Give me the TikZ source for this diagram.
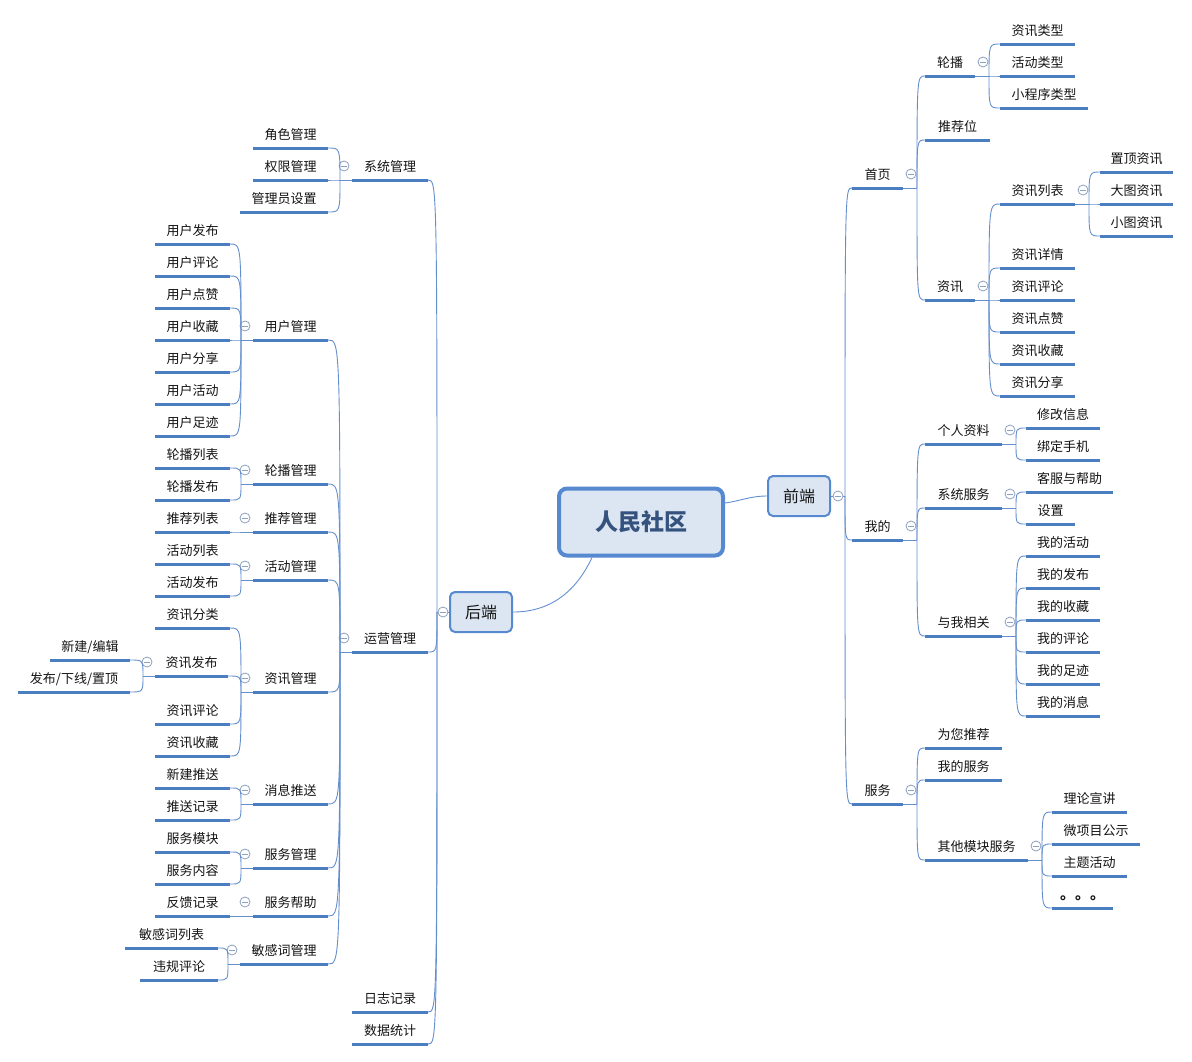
\documentclass[tikz,border=0pt]{standalone}
\usepackage{fontspec}
\setmainfont{Noto Sans CJK SC}
\usetikzlibrary{calc}
\definecolor{ul}{RGB}{74,126,193}
\definecolor{cn}{RGB}{100,143,206}
\definecolor{mk}{RGB}{140,160,192}
\definecolor{bxfill}{RGB}{220,230,242}
\definecolor{bxline}{RGB}{86,137,208}
\definecolor{roottext}{RGB}{52,82,125}
\definecolor{tt}{RGB}{20,20,20}
\tikzset{
 tx/.style={inner sep=0pt, text height=10pt, text depth=0pt, font=\fontsize{13}{15}\selectfont, text=tt},
 uline/.style={draw=ul, line width=3pt},
 conn/.style={draw=cn, line width=0.9pt},
 collapse/.style={circle, draw=mk, fill=white, line width=0.8pt, minimum size=10pt, inner sep=0pt,
   path picture={\draw[mk, line width=0.8pt] ([xshift=-2.7pt]path picture bounding box.center) -- ([xshift=2.7pt]path picture bounding box.center);}},
 midbox/.style={draw=bxline, fill=bxfill, line width=2pt, rounded corners=5pt, minimum width=62pt, minimum height=40pt, inner sep=0pt, font=\fontsize{16}{18}\selectfont, text=tt},
 rootbox/.style={draw=bxline, fill=bxfill, line width=4pt, rounded corners=8pt, minimum width=164pt, minimum height=67pt, inner sep=0pt, font=\fontsize{23}{26}\selectfont\bfseries, text=roottext},
}
\newcommand\tp[5]{%
 \coordinate (#1-l) at (#2,#4);
 \coordinate (#1-r) at (#3,#4);
 \node[tx] (#1) at ({(#2+#3)/2},{#4-14}) {#5};
 \draw[uline] (#1-l) -- (#1-r);}
\newcommand\pr[1]{%
 \coordinate (#1-j) at ($(#1-r)+(14,0)$);
 \draw[conn] (#1-r) -- (#1-j);
 \node[collapse] (#1-m) at ($(#1-r)+(8,-14)$) {};}
\newcommand\pl[1]{%
 \coordinate (#1-j) at ($(#1-l)+(-12,0)$);
 \draw[conn] (#1-l) -- (#1-j);
 \node[collapse] (#1-m) at ($(#1-l)+(-8,-14)$) {};}
\newcommand\kr[2]{\draw[conn] (#1-j) .. controls (#1-j |- #2-l) .. (#2-l);}
\newcommand\kl[2]{\draw[conn] (#1-j) .. controls (#1-j |- #2-r) .. (#2-r);}
\begin{document}
\begin{tikzpicture}[x=1pt,y=-1pt]
\fill[white] (0,0) rectangle (1192,1061);
\useasboundingbox (0,0) rectangle (1192,1061);

% root and main branches
\node[rootbox] (root) at (641,522) {人民社区};
\node[midbox] (fe) at (799,496) {前端};
\node[midbox] (be) at (481,612) {后端};
\draw[conn] ([yshift=19pt]root.east) to[out=8,in=180] (fe.west);
\draw[conn] ([xshift=-49pt]root.south) to[out=-115,in=0] (be.east);

% ---------------- left: 后端
\coordinate (be-j) at (437,612);
\draw[conn] (be.west) -- (be-j);
\node[collapse] (be-m) at (443,612) {};
\tp{sys}{352}{428}{180}{系统管理}
\tp{ops}{352}{428}{652}{运营管理}
\tp{log}{352}{428}{1012}{日志记录}
\tp{stat}{352}{428}{1044}{数据统计}
\kl{be}{sys}\kl{be}{ops}\kl{be}{log}\kl{be}{stat}

\pl{sys}
\tp{role}{253}{328}{148}{角色管理}
\tp{perm}{253}{328}{180}{权限管理}
\tp{admin}{240}{328}{212}{管理员设置}
\kl{sys}{role}\kl{sys}{perm}\kl{sys}{admin}

\pl{ops}
\tp{user}{253}{328}{340}{用户管理}
\tp{car}{253}{328}{484}{轮播管理}
\tp{rec}{253}{328}{532}{推荐管理}
\tp{act}{253}{328}{580}{活动管理}
\tp{news}{253}{328}{692}{资讯管理}
\tp{msg}{253}{328}{804}{消息推送}
\tp{svc}{253}{328}{868}{服务管理}
\tp{help}{253}{328}{916}{服务帮助}
\tp{sens}{240}{328}{964}{敏感词管理}
\kl{ops}{user}\kl{ops}{car}\kl{ops}{rec}\kl{ops}{act}\kl{ops}{news}
\kl{ops}{msg}\kl{ops}{svc}\kl{ops}{help}\kl{ops}{sens}

\pl{user}
\tp{yhfb}{155}{230}{244}{用户发布}
\tp{yhpl}{155}{230}{276}{用户评论}
\tp{yhdz}{155}{230}{308}{用户点赞}
\tp{yhsc}{155}{230}{340}{用户收藏}
\tp{yhfx}{155}{230}{372}{用户分享}
\tp{yhhd}{155}{230}{404}{用户活动}
\tp{yhzj}{155}{230}{436}{用户足迹}
\kl{user}{yhfb}\kl{user}{yhpl}\kl{user}{yhdz}\kl{user}{yhsc}
\kl{user}{yhfx}\kl{user}{yhhd}\kl{user}{yhzj}

\pl{car}
\tp{lblb}{155}{230}{468}{轮播列表}
\tp{lbfb}{155}{230}{500}{轮播发布}
\kl{car}{lblb}\kl{car}{lbfb}

\pl{rec}
\tp{tjlb}{155}{230}{532}{推荐列表}
\kl{rec}{tjlb}

\pl{act}
\tp{hdlb}{155}{230}{564}{活动列表}
\tp{hdfb}{155}{230}{596}{活动发布}
\kl{act}{hdlb}\kl{act}{hdfb}

\pl{news}
\tp{zxfl}{155}{230}{628}{资讯分类}
\tp{zxfb}{155}{228}{676}{资讯发布}
\tp{zxpl}{155}{230}{724}{资讯评论}
\tp{zxsc}{155}{230}{756}{资讯收藏}
\kl{news}{zxfl}\kl{news}{zxfb}\kl{news}{zxpl}\kl{news}{zxsc}

\pl{zxfb}
\tp{xjbj}{50}{130}{660}{新建/编辑}
\tp{fbxx}{18}{130}{692}{发布/下线/置顶}
\kl{zxfb}{xjbj}\kl{zxfb}{fbxx}

\pl{msg}
\tp{xjts}{155}{230}{788}{新建推送}
\tp{tsjl}{155}{230}{820}{推送记录}
\kl{msg}{xjts}\kl{msg}{tsjl}

\pl{svc}
\tp{fwmk}{155}{230}{852}{服务模块}
\tp{fwnr}{155}{230}{884}{服务内容}
\kl{svc}{fwmk}\kl{svc}{fwnr}

\pl{help}
\tp{fkjl}{155}{230}{916}{反馈记录}
\kl{help}{fkjl}

\pl{sens}
\tp{mgc}{125}{218}{948}{敏感词列表}
\tp{wgpl}{140}{218}{980}{违规评论}
\kl{sens}{mgc}\kl{sens}{wgpl}

% ---------------- right: 前端
\coordinate (fe-j) at (845,496);
\draw[conn] (fe.east) -- (fe-j);
\node[collapse] (fe-m) at (838,496) {};
\tp{home}{852}{903}{188}{首页}
\tp{mine}{852}{903}{540}{我的}
\tp{serv}{852}{903}{804}{服务}
\kr{fe}{home}\kr{fe}{mine}\kr{fe}{serv}

\pr{home}
\tp{lb}{925}{975}{76}{轮播}
\tp{tjw}{925}{990}{140}{推荐位}
\tp{zx}{925}{975}{300}{资讯}
\kr{home}{lb}\kr{home}{tjw}\kr{home}{zx}

\pr{lb}
\tp{zxlx}{1000}{1075}{44}{资讯类型}
\tp{hdlx}{1000}{1075}{76}{活动类型}
\tp{xcx}{1000}{1088}{108}{小程序类型}
\kr{lb}{zxlx}\kr{lb}{hdlx}\kr{lb}{xcx}

\pr{zx}
\tp{zxlb}{1000}{1075}{204}{资讯列表}
\tp{zxxq}{1000}{1075}{268}{资讯详情}
\tp{rzxpl}{1000}{1075}{300}{资讯评论}
\tp{zxdz}{1000}{1075}{332}{资讯点赞}
\tp{rzxsc}{1000}{1075}{364}{资讯收藏}
\tp{zxfx}{1000}{1075}{396}{资讯分享}
\kr{zx}{zxlb}\kr{zx}{zxxq}\kr{zx}{rzxpl}\kr{zx}{zxdz}\kr{zx}{rzxsc}\kr{zx}{zxfx}

\pr{zxlb}
\tp{zdzx}{1100}{1173}{172}{置顶资讯}
\tp{dtzx}{1100}{1173}{204}{大图资讯}
\tp{xtzx}{1100}{1173}{236}{小图资讯}
\kr{zxlb}{zdzx}\kr{zxlb}{dtzx}\kr{zxlb}{xtzx}

\pr{mine}
\tp{grzl}{925}{1002}{444}{个人资料}
\tp{xtfw}{925}{1002}{508}{系统服务}
\tp{ywxg}{925}{1002}{636}{与我相关}
\kr{mine}{grzl}\kr{mine}{xtfw}\kr{mine}{ywxg}

\pr{grzl}
\tp{xgxx}{1026}{1100}{428}{修改信息}
\tp{bdsj}{1026}{1100}{460}{绑定手机}
\kr{grzl}{xgxx}\kr{grzl}{bdsj}

\pr{xtfw}
\tp{kfbz}{1026}{1113}{492}{客服与帮助}
\tp{sz}{1026}{1075}{524}{设置}
\kr{xtfw}{kfbz}\kr{xtfw}{sz}

\pr{ywxg}
\tp{wdhd}{1026}{1100}{556}{我的活动}
\tp{wdfb}{1026}{1100}{588}{我的发布}
\tp{wdsc}{1026}{1100}{620}{我的收藏}
\tp{wdpl}{1026}{1100}{652}{我的评论}
\tp{wdzj}{1026}{1100}{684}{我的足迹}
\tp{wdxx}{1026}{1100}{716}{我的消息}
\kr{ywxg}{wdhd}\kr{ywxg}{wdfb}\kr{ywxg}{wdsc}\kr{ywxg}{wdpl}\kr{ywxg}{wdzj}\kr{ywxg}{wdxx}

\pr{serv}
\tp{wntj}{925}{1002}{748}{为您推荐}
\tp{wdfw}{925}{1002}{780}{我的服务}
\tp{qtmk}{925}{1028}{860}{其他模块服务}
\kr{serv}{wntj}\kr{serv}{wdfw}\kr{serv}{qtmk}

\pr{qtmk}
\tp{llxj}{1052}{1127}{812}{理论宣讲}
\tp{wxm}{1052}{1140}{844}{微项目公示}
\tp{zthd}{1052}{1127}{876}{主题活动}
\tp{etc}{1052}{1113}{908}{{\fontsize{15}{15}\selectfont\bfseries 。。。}}
\kr{qtmk}{llxj}\kr{qtmk}{wxm}\kr{qtmk}{zthd}\kr{qtmk}{etc}
\end{tikzpicture}
\end{document}
